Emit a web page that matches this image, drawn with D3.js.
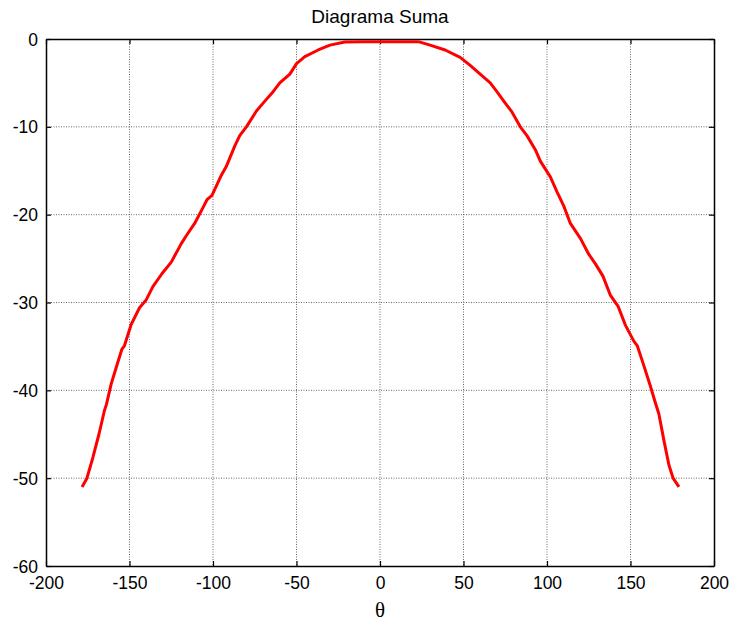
<!DOCTYPE html>
<html>
<head>
<meta charset="utf-8">
<script src="https://cdnjs.cloudflare.com/ajax/libs/d3/7.8.5/d3.min.js"></script>
<style>
  body { margin: 0; background: #fff; }
  .tick text { font-family: "Liberation Sans", Arial, sans-serif; font-size: 17.5px; fill: #000; }
</style>
</head>
<body>
<div class="chart"></div>
<script>
// Chart values
var thetaVals = [-178.4, -175.5, -172, -168.3, -165, -163.8, -161, -157, -154.5, -153, -149, -144, -140, -136,
  -130.5, -125, -119, -116, -111, -106, -103.6, -100.6, -95, -92, -87, -84, -80, -74, -70, -64, -60,
  -54, -50, -45, -37, -30, -21, -10, 0, 10, 22,
  24, 30, 39, 48, 54, 60, 66, 70, 75, 79, 84, 88, 93, 96, 102, 106, 110, 114, 120, 125, 129, 133.5,
  138, 142.5, 147, 152, 154, 157.5, 161.7, 164.7, 167, 170, 173, 175.5, 179];
var sumVals = [-51, -50, -47.7, -45, -42.3, -41.6, -39.3, -36.8, -35.3, -34.9, -32.5, -30.6, -29.7, -28.2,
  -26.7, -25.4, -23.3, -22.4, -21, -19.2, -18.3, -17.8, -15.5, -14.5, -12.2, -11, -10, -8.2, -7.3, -6, -5,
  -4, -2.8, -2, -1.25, -0.7, -0.35, -0.3, -0.3, -0.3, -0.3,
  -0.35, -0.7, -1.25, -2.1, -3, -4, -5, -6, -7.3, -8.3, -10, -11, -12.6, -13.9, -15.7, -17.4, -19, -21,
  -22.7, -24.5, -25.6, -27, -29.2, -30.4, -32.6, -34.4, -34.9, -36.9, -39.4, -41.3, -42.7, -45.7, -48.5, -50, -51];
var xTicks = [-200, -150, -100, -50, 0, 50, 100, 150, 200];
var yTicks = [0, -10, -20, -30, -40, -50, -60];

var svgWidth = 734;
var svgHeight = 621;
var margin = { top: 39, bottom: 55, right: 20, left: 46 };
var width = svgWidth - margin.left - margin.right;
var height = svgHeight - margin.top - margin.bottom;

var svg = d3.select(".chart")
    .append("svg")
    .attr("width", svgWidth)
    .attr("height", svgHeight);

var chartGroup = svg.append("g")
    .attr("transform", `translate(${margin.left}, ${margin.top})`);

var xScale = d3.scaleLinear().domain([-200, 200]).range([0, width]);
var yScale = d3.scaleLinear().domain([-60, 0]).range([height, 0]);

// Dotted grid
chartGroup.selectAll(".vgrid")
    .data(xTicks.slice(1, -1))
    .enter()
    .append("line")
    .attr("x1", d => xScale(d)).attr("x2", d => xScale(d))
    .attr("y1", 0).attr("y2", height)
    .attr("stroke", "#444")
    .attr("stroke-width", 0.8)
    .attr("stroke-dasharray", "1,1.5");

chartGroup.selectAll(".hgrid")
    .data(yTicks.slice(1, -1))
    .enter()
    .append("line")
    .attr("x1", 0).attr("x2", width)
    .attr("y1", d => yScale(d)).attr("y2", d => yScale(d))
    .attr("stroke", "#444")
    .attr("stroke-width", 0.8)
    .attr("stroke-dasharray", "1,1.5");

// Axes with inward ticks on all sides, plain hyphen minus like the original
var fmt = d => String(d);
var bottomAxis = d3.axisBottom(xScale).tickValues(xTicks).tickSizeInner(-5).tickSizeOuter(0).tickPadding(11).tickFormat(fmt);
var leftAxis = d3.axisLeft(yScale).tickValues(yTicks).tickSizeInner(-5).tickSizeOuter(0).tickPadding(8).tickFormat(fmt);
var topAxis = d3.axisTop(xScale).tickValues(xTicks).tickSizeInner(-5).tickSizeOuter(0).tickFormat("");
var rightAxis = d3.axisRight(yScale).tickValues(yTicks).tickSizeInner(-5).tickSizeOuter(0).tickFormat("");

var gBottom = chartGroup.append("g").attr("transform", `translate(0, ${height})`).call(bottomAxis);
var gLeft = chartGroup.append("g").call(leftAxis);
chartGroup.append("g").call(topAxis);
chartGroup.append("g").attr("transform", `translate(${width}, 0)`).call(rightAxis);

chartGroup.selectAll(".domain").attr("stroke", "#000").attr("stroke-width", 1.5);
chartGroup.selectAll(".tick line").attr("stroke", "#000").attr("stroke-width", 1.2);
gLeft.selectAll(".tick text").attr("dy", "0.35em");
gBottom.selectAll(".tick text").attr("dy", "0.71em");

// Curve
var line = d3.line()
    .x((d, i) => xScale(thetaVals[i]))
    .y(d => yScale(d));

chartGroup.append("path")
    .datum(sumVals)
    .attr("fill", "none")
    .attr("stroke", "#ff0000")
    .attr("stroke-width", 3)
    .attr("stroke-linejoin", "round")
    .attr("d", line);

// Title and axis label
svg.append("text")
    .attr("x", margin.left + width / 2)
    .attr("y", 23)
    .attr("text-anchor", "middle")
    .style("font-family", "Liberation Sans, Arial, sans-serif")
    .style("font-size", "19px")
    .text("Diagrama Suma");

svg.append("text")
    .attr("x", margin.left + xScale(0))
    .attr("y", 617)
    .attr("text-anchor", "middle")
    .style("font-family", "Liberation Serif, Times New Roman, serif")
    .style("font-size", "21px")
    .text("θ");
</script>
</body>
</html>
